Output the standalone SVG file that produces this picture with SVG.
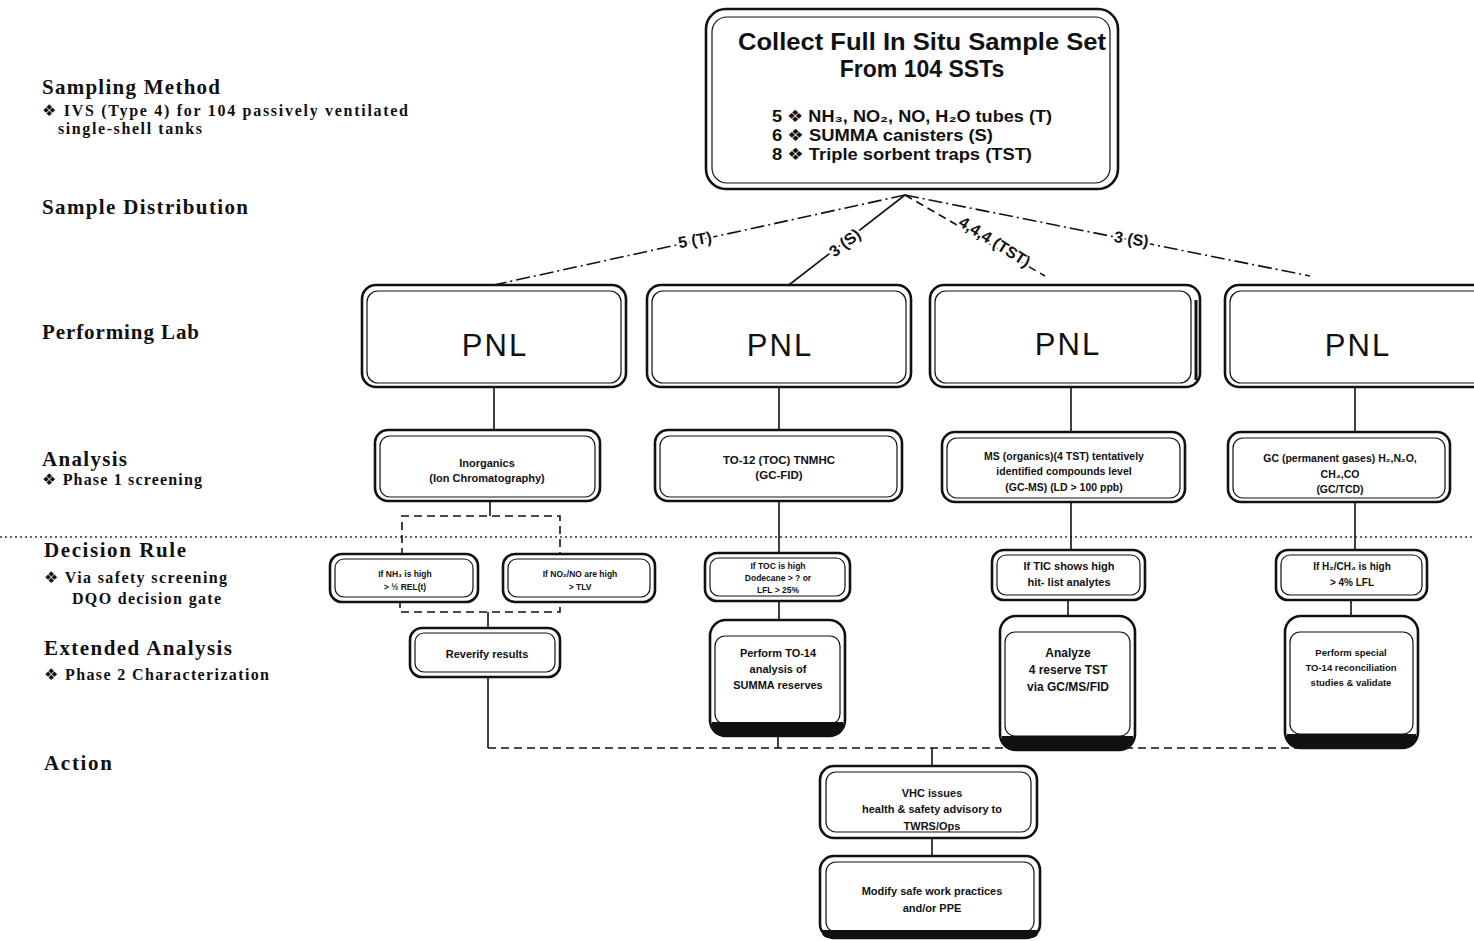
<svg xmlns="http://www.w3.org/2000/svg" width="1474" height="941" viewBox="0 0 1474 941">
<style>
.o{fill:#fff;stroke:#111;stroke-width:2.6}
.i{fill:none;stroke:#111;stroke-width:1.2}
.band{fill:#111}
.lbl{font-family:"Liberation Serif","DejaVu Serif",serif;font-weight:bold;fill:#111}
.h{font-size:21px}
.s{font-size:16px}
.bu{font-family:"DejaVu Sans",sans-serif;font-weight:normal}
.t{font-family:"Liberation Sans","DejaVu Sans",sans-serif;font-weight:bold;fill:#111;text-anchor:middle}
.pnl{font-family:"Liberation Sans","DejaVu Sans",sans-serif;font-size:31px;letter-spacing:2px;fill:#111;text-anchor:middle}
.c{fill:none;stroke:#111;stroke-width:1.6}
.dd{stroke-dasharray:14 4 2 4}
.ds{stroke-dasharray:8 5}
.dot{fill:none;stroke:#333;stroke-width:1.3;stroke-dasharray:2 3}
.el{font-family:"Liberation Sans","DejaVu Sans",sans-serif;font-weight:bold;font-size:16px;fill:#111;stroke:#fff;stroke-width:5px;paint-order:stroke;stroke-linejoin:round}
</style>
<rect width="1474" height="941" fill="#fff"/>

<g id="row-labels">
<text class="lbl h" x="42" y="94" textLength="178" lengthAdjust="spacing">Sampling Method</text>
<text class="lbl s" x="42" y="116" textLength="366" lengthAdjust="spacing"><tspan class="bu">❖</tspan> IVS (Type 4) for 104 passively ventilated</text>
<text class="lbl s" x="58" y="134" textLength="144" lengthAdjust="spacing">single-shell tanks</text>
<text class="lbl h" x="42" y="214" textLength="206" lengthAdjust="spacing">Sample Distribution</text>
<text class="lbl h" x="42" y="339" textLength="157" lengthAdjust="spacing">Performing Lab</text>
<text class="lbl h" x="42" y="466" textLength="85" lengthAdjust="spacing">Analysis</text>
<text class="lbl s" x="42" y="485" textLength="160" lengthAdjust="spacing"><tspan class="bu">❖</tspan> Phase 1 screening</text>
<text class="lbl h" x="44" y="557" textLength="142" lengthAdjust="spacing">Decision Rule</text>
<text class="lbl s" x="44" y="583" textLength="183" lengthAdjust="spacing"><tspan class="bu">❖</tspan>  Via safety screening</text>
<text class="lbl s" x="72" y="604" textLength="149" lengthAdjust="spacing">DQO decision gate</text>
<text class="lbl h" x="44" y="655" textLength="188" lengthAdjust="spacing">Extended Analysis</text>
<text class="lbl s" x="44" y="680" textLength="225" lengthAdjust="spacing"><tspan class="bu">❖</tspan>  Phase 2 Characterization</text>
<text class="lbl h" x="44" y="770" textLength="68" lengthAdjust="spacing">Action</text>
</g>

<line class="dot" x1="0" y1="537" x2="1474" y2="537"/>

<g id="connectors">
<line class="c dd" x1="905" y1="195" x2="480" y2="288"/>
<line class="c" x1="905" y1="195" x2="785" y2="288"/>
<line class="c ds" x1="905" y1="195" x2="1045" y2="276"/>
<line class="c dd" x1="905" y1="195" x2="1310" y2="276"/>
<line class="c" x1="494" y1="387" x2="494" y2="432"/>
<line class="c" x1="779" y1="387" x2="779" y2="432"/>
<line class="c" x1="1071" y1="387" x2="1071" y2="434"/>
<line class="c" x1="1355" y1="387" x2="1355" y2="434"/>
<line class="c" x1="490" y1="500" x2="490" y2="516"/>
<polyline class="c ds" points="402,556 402,516 560,516 560,556"/>
<polyline class="c ds" points="400,600 400,612 560,612 560,600"/>
<line class="c" x1="488" y1="612" x2="488" y2="630"/>
<line class="c" x1="779" y1="500" x2="779" y2="553"/>
<line class="c" x1="1071" y1="500" x2="1071" y2="550"/>
<line class="c" x1="1355" y1="500" x2="1355" y2="550"/>
<line class="c" x1="779" y1="600" x2="779" y2="622"/>
<line class="c" x1="1068" y1="600" x2="1068" y2="617"/>
<line class="c" x1="1351" y1="600" x2="1351" y2="617"/>
<line class="c" x1="488" y1="677" x2="488" y2="748"/>
<line class="c" x1="778" y1="735" x2="778" y2="748"/>
<line class="c ds" x1="488" y1="748" x2="1355" y2="748"/>
<line class="c" x1="932" y1="748" x2="932" y2="768"/>
<line class="c" x1="932" y1="838" x2="932" y2="858"/>
<text class="el" x="678" y="245" transform="rotate(-10 697 240)">5 (T)</text>
<text class="el" x="826" y="247" transform="rotate(-38 846 240)">3 (S)</text>
<text class="el" x="952" y="248" transform="rotate(32 995 246)">4,4,4 (TST)</text>
<text class="el" x="1114" y="245" transform="rotate(8 1135 240)">3 (S)</text>
</g>

<g id="collect">
<rect class="o" x="706" y="9" width="412" height="180" rx="20"/>
<rect class="i" x="712" y="17" width="398" height="166" rx="15"/>
<text class="t" x="922" y="50" font-size="23" textLength="368" lengthAdjust="spacingAndGlyphs">Collect Full In Situ Sample Set</text>
<text class="t" x="922" y="77" font-size="23">From 104 SSTs</text>
<text class="t" x="772" y="122" font-size="17" style="text-anchor:start" textLength="280" lengthAdjust="spacingAndGlyphs">5 <tspan class="bu">❖</tspan> NH₃, NO₂, NO, H₂O tubes (T)</text>
<text class="t" x="772" y="141" font-size="17" style="text-anchor:start" textLength="221" lengthAdjust="spacingAndGlyphs">6 <tspan class="bu">❖</tspan> SUMMA canisters (S)</text>
<text class="t" x="772" y="160" font-size="17" style="text-anchor:start" textLength="260" lengthAdjust="spacingAndGlyphs">8 <tspan class="bu">❖</tspan> Triple sorbent traps (TST)</text>
</g>

<g id="pnl1"><rect class="o" x="362" y="285" width="264" height="102" rx="14"/><rect class="i" x="367" y="291" width="254" height="92" rx="11"/><text class="pnl" x="495" y="356">PNL</text></g>
<g id="pnl2"><rect class="o" x="647" y="285" width="264" height="102" rx="14"/><rect class="i" x="652" y="291" width="254" height="92" rx="11"/><text class="pnl" x="780" y="356">PNL</text></g>
<g id="pnl3"><rect class="o" x="930" y="285" width="270" height="102" rx="14"/><rect class="i" x="935" y="291" width="256" height="92" rx="11"/><line x1="1196" y1="300" x2="1196" y2="380" stroke="#111" stroke-width="3"/><text class="pnl" x="1068" y="355">PNL</text></g>
<g id="pnl4"><rect class="o" x="1225" y="285" width="270" height="102" rx="14"/><rect class="i" x="1230" y="291" width="260" height="92" rx="11"/><text class="pnl" x="1358" y="356">PNL</text></g>

<g id="an1"><rect class="o" x="375" y="430" width="225" height="71" rx="13"/><rect class="i" x="380" y="436" width="215" height="61" rx="10"/><text class="t" font-size="11" x="487" y="467">Inorganics</text><text class="t" font-size="11" x="487" y="482">(Ion Chromatography)</text></g>
<g id="an2"><rect class="o" x="655" y="430" width="247" height="71" rx="13"/><rect class="i" x="660" y="436" width="237" height="61" rx="10"/><text class="t" font-size="11.5" x="779" y="464">TO-12 (TOC) TNMHC</text><text class="t" font-size="11.5" x="779" y="479">(GC-FID)</text></g>
<g id="an3"><rect class="o" x="942" y="432" width="243" height="70" rx="13"/><rect class="i" x="947" y="438" width="233" height="60" rx="10"/><text class="t" font-size="10.5" x="1064" y="460">MS (organics)(4 TST)  tentatively</text><text class="t" font-size="10.5" x="1064" y="475">identified compounds level</text><text class="t" font-size="10.5" x="1064" y="491">(GC-MS) (LD &gt; 100 ppb)</text></g>
<g id="an4"><rect class="o" x="1228" y="432" width="222" height="70" rx="13"/><rect class="i" x="1233" y="438" width="212" height="60" rx="10"/><text class="t" font-size="10.5" x="1340" y="462">GC (permanent gases) H₂,N₂O,</text><text class="t" font-size="10.5" x="1340" y="478">CH₄,CO</text><text class="t" font-size="10.5" x="1340" y="493">(GC/TCD)</text></g>

<g id="dec1"><rect class="o" x="330" y="554" width="148" height="48" rx="12"/><rect class="i" x="335" y="559" width="138" height="38" rx="9"/><text class="t" font-size="8.5" x="405" y="577">If NH₃ is high</text><text class="t" font-size="8.5" x="405" y="590">&gt; ½ REL(t)</text></g>
<g id="dec2"><rect class="o" x="503" y="554" width="152" height="48" rx="12"/><rect class="i" x="508" y="559" width="142" height="38" rx="9"/><text class="t" font-size="8.5" x="580" y="577">If NO₂/NO are high</text><text class="t" font-size="8.5" x="580" y="590">&gt; TLV</text></g>
<g id="dec3"><rect class="o" x="705" y="553" width="145" height="48" rx="12"/><rect class="i" x="710" y="558" width="135" height="38" rx="9"/><text class="t" font-size="8.5" x="778" y="569">If TOC is high</text><text class="t" font-size="8.5" x="778" y="581">Dodecane &gt; ? or</text><text class="t" font-size="8.5" x="778" y="593">LFL &gt; 25%</text></g>
<g id="dec4"><rect class="o" x="992" y="550" width="153" height="50" rx="12"/><rect class="i" x="997" y="555" width="143" height="40" rx="9"/><text class="t" font-size="11" x="1069" y="570">If TIC shows high</text><text class="t" font-size="11" x="1069" y="586">hit- list analytes</text></g>
<g id="dec5"><rect class="o" x="1276" y="550" width="151" height="50" rx="12"/><rect class="i" x="1281" y="555" width="141" height="40" rx="9"/><text class="t" font-size="10" x="1352" y="570">If H₂/CH₄ is high</text><text class="t" font-size="10" x="1352" y="586">&gt; 4% LFL</text></g>

<g id="ext1"><rect class="o" x="410" y="628" width="150" height="49" rx="12"/><rect class="i" x="415" y="633" width="140" height="39" rx="9"/><text class="t" font-size="11" x="487" y="658">Reverify results</text></g>
<g id="ext2"><rect class="o" x="710" y="620" width="135" height="116" rx="16"/><rect class="i" x="715" y="636" width="125" height="88" rx="10"/><path class="band" d="M712,722 H843 V726 Q843,736 831,736 H724 Q712,736 712,726 Z"/><text class="t" font-size="11" x="778" y="657">Perform TO-14</text><text class="t" font-size="11" x="778" y="673">analysis of</text><text class="t" font-size="11" x="778" y="689">SUMMA reserves</text></g>
<g id="ext3"><rect class="o" x="1000" y="616" width="135" height="134" rx="16"/><rect class="i" x="1005" y="632" width="125" height="104" rx="10"/><path class="band" d="M1002,736 H1133 V740 Q1133,750 1121,750 H1014 Q1002,750 1002,740 Z"/><text class="t" font-size="12" x="1068" y="657">Analyze</text><text class="t" font-size="12" x="1068" y="674">4 reserve TST</text><text class="t" font-size="12" x="1068" y="691">via GC/MS/FID</text></g>
<g id="ext4"><rect class="o" x="1285" y="616" width="133" height="132" rx="16"/><rect class="i" x="1290" y="632" width="123" height="102" rx="10"/><path class="band" d="M1287,734 H1416 V738 Q1416,748 1404,748 H1299 Q1287,748 1287,738 Z"/><text class="t" font-size="9.5" x="1351" y="656">Perform special</text><text class="t" font-size="9.5" x="1351" y="671">TO-14 reconciliation</text><text class="t" font-size="9.5" x="1351" y="686">studies &amp; validate</text></g>

<g id="act1"><rect class="o" x="820" y="766" width="217" height="72" rx="14"/><rect class="i" x="826" y="772" width="205" height="60" rx="10"/><text class="t" font-size="11" x="932" y="797">VHC issues</text><text class="t" font-size="11" x="932" y="813">health &amp; safety advisory to</text><text class="t" font-size="11" x="932" y="830">TWRS/Ops</text></g>
<g id="act2"><rect class="o" x="820" y="856" width="220" height="82" rx="14"/><rect class="i" x="826" y="862" width="208" height="70" rx="10"/><path class="band" d="M822,930 H1038 V932 Q1038,938 1030,938 H830 Q822,938 822,932 Z"/><text class="t" font-size="11" x="932" y="895">Modify safe work practices</text><text class="t" font-size="11" x="932" y="912">and/or PPE</text></g>
</svg>
